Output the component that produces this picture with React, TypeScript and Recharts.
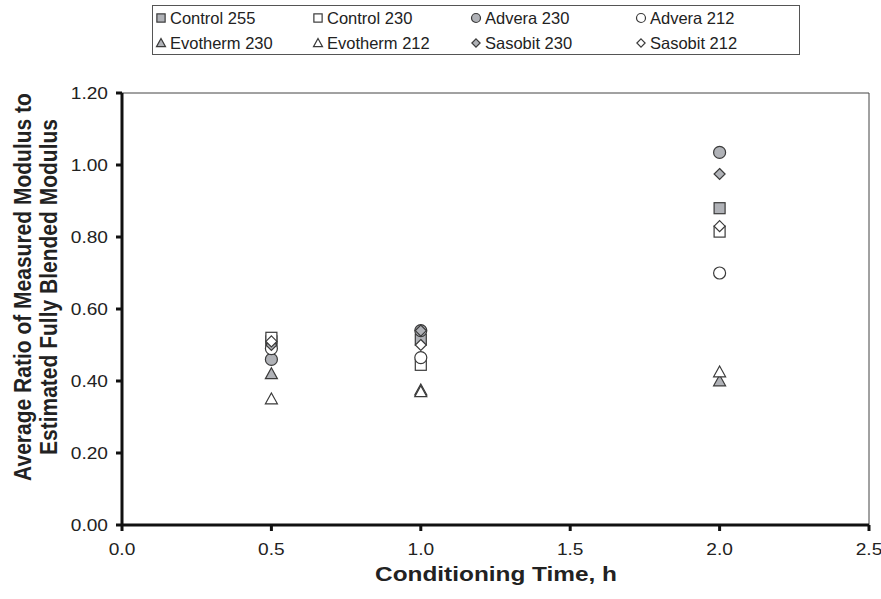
import React from 'react';
import { ScatterChart, Scatter, XAxis, YAxis, ReferenceLine } from 'recharts';

const times = [0.5, 1.0, 2.0];
const control255 = [0.51, 0.515, 0.88];
const control230 = [0.52, 0.445, 0.815];
const advera230 = [0.46, 0.54, 1.035];
const advera212 = [0.49, 0.465, 0.70];
const evotherm230 = [0.42, 0.375, 0.40];
const evotherm212 = [0.35, 0.37, 0.425];
const sasobit230 = [0.50, 0.54, 0.975];
const sasobit212 = [0.51, 0.50, 0.83];

const xTicks = [0, 0.5, 1.0, 1.5, 2.0, 2.5];
const yTicks = [0, 0.2, 0.4, 0.6, 0.8, 1.0, 1.2];

const GREY = '#b0b2b7';
const STROKE = '#3a3a3a';
const SX = 1.16;

type Kind = 'square' | 'circle' | 'triangle' | 'diamond';

const seriesDefs: { name: string; values: number[]; kind: Kind; fill: string }[] = [
  { name: 'Control 255', values: control255, kind: 'square', fill: GREY },
  { name: 'Control 230', values: control230, kind: 'square', fill: '#ffffff' },
  { name: 'Advera 230', values: advera230, kind: 'circle', fill: GREY },
  { name: 'Advera 212', values: advera212, kind: 'circle', fill: '#ffffff' },
  { name: 'Evotherm 230', values: evotherm230, kind: 'triangle', fill: GREY },
  { name: 'Evotherm 212', values: evotherm212, kind: 'triangle', fill: '#ffffff' },
  { name: 'Sasobit 230', values: sasobit230, kind: 'diamond', fill: GREY },
  { name: 'Sasobit 212', values: sasobit212, kind: 'diamond', fill: '#ffffff' },
];

const legendCols = [2, 159, 317, 482];

function Marker({ cx, cy, kind, fill, s = 1 }: { cx: number; cy: number; kind: Kind; fill: string; s?: number }) {
  const sw = 1.2;
  if (kind === 'square') {
    const h = 5.5 * s;
    return <rect x={cx - h} y={cy - h} width={2 * h} height={2 * h} fill={fill} stroke={STROKE} strokeWidth={sw} />;
  }
  if (kind === 'circle') {
    return <circle cx={cx} cy={cy} r={6 * s} fill={fill} stroke={STROKE} strokeWidth={sw} />;
  }
  if (kind === 'triangle') {
    const h = 6 * s;
    return (
      <polygon
        points={`${cx},${cy - h} ${cx + h},${cy + h * 0.8} ${cx - h},${cy + h * 0.8}`}
        fill={fill}
        stroke={STROKE}
        strokeWidth={sw}
      />
    );
  }
  const d = 5.5 * s;
  return (
    <polygon
      points={`${cx},${cy - d} ${cx + d},${cy} ${cx},${cy + d} ${cx - d},${cy}`}
      fill={fill}
      stroke={STROKE}
      strokeWidth={sw}
    />
  );
}

const font = 'Liberation Sans, Arial, sans-serif';

const XTick = (props: any) => {
  const { x, y, payload } = props;
  return (
    <g transform={`translate(${x},${y})`}>
      <text transform={`scale(${SX},1)`} textAnchor="middle" dy="0.71em" fill="#222" fontSize={16.5} fontFamily={font}>
        {Number(payload.value).toFixed(1)}
      </text>
    </g>
  );
};

const YTick = (props: any) => {
  const { x, y, payload } = props;
  return (
    <g transform={`translate(${x},${y})`}>
      <text transform={`scale(${SX},1)`} textAnchor="end" dy="0.355em" fill="#222" fontSize={16.5} fontFamily={font}>
        {Number(payload.value).toFixed(2)}
      </text>
    </g>
  );
};

const LegendBox = () => (
  <div
    style={{
      position: 'absolute',
      left: 152,
      top: 5,
      width: 648,
      height: 50,
      border: '1px solid #555',
      boxSizing: 'border-box',
      fontFamily: font,
      fontSize: 16.5,
      color: '#222',
      background: '#fff',
    }}
  >
    {seriesDefs.map((d, i) => {
      const col = i % 4;
      const row = Math.floor(i / 4);
      return (
        <div
          key={d.name}
          style={{
            position: 'absolute',
            left: legendCols[col],
            top: 1 + row * 25,
            height: 22,
            display: 'flex',
            alignItems: 'center',
            whiteSpace: 'nowrap',
          }}
        >
          <svg width={12} height={18} style={{ marginRight: 3 }}>
            <Marker cx={6} cy={9} kind={d.kind} fill={d.fill} s={0.75} />
          </svg>
          <span>{d.name}</span>
        </div>
      );
    })}
  </div>
);

export default function App() {
  return (
    <div style={{ position: 'absolute', left: 0, top: 0, width: 881, height: 599, background: '#fff' }}>
      <ScatterChart width={881} height={599} margin={{ top: 93, right: 12, bottom: 0, left: 62 }}>
        <XAxis
          type="number"
          dataKey="x"
          domain={[0, 2.5]}
          ticks={xTicks}
          axisLine={{ stroke: '#111', strokeWidth: 3 }}
          tickLine={{ stroke: '#111', strokeWidth: 3 }}
          tickSize={6}
          tickMargin={12}
          tick={<XTick />}
          height={74}
        />
        <YAxis
          type="number"
          dataKey="y"
          domain={[0, 1.2]}
          ticks={yTicks}
          axisLine={{ stroke: '#111', strokeWidth: 3 }}
          tickLine={{ stroke: '#111', strokeWidth: 3 }}
          tickSize={6}
          tickMargin={8}
          tick={<YTick />}
          width={60}
        />
        <ReferenceLine y={1.2} stroke="#444" strokeWidth={1} />
        <ReferenceLine x={2.5} stroke="#444" strokeWidth={1} />
        {seriesDefs.map((d) => (
          <Scatter
            key={d.name}
            name={d.name}
            data={times.map((t, i) => ({ x: t, y: d.values[i] }))}
            isAnimationActive={false}
            shape={(p: any) => <Marker cx={p.cx} cy={p.cy} kind={d.kind} fill={d.fill} />}
          />
        ))}
      </ScatterChart>
      <LegendBox />
      <div
        style={{
          position: 'absolute',
          left: 496,
          top: 574,
          transform: `translate(-50%, -50%) scaleX(${SX})`,
          fontFamily: font,
          fontWeight: 'bold',
          fontSize: 21,
          color: '#222',
          whiteSpace: 'nowrap',
        }}
      >
        Conditioning Time, h
      </div>
      <div
        style={{
          position: 'absolute',
          left: 36,
          top: 287,
          transform: `translate(-50%, -50%) scaleX(${SX}) rotate(-90deg)`,
          fontFamily: font,
          fontWeight: 'bold',
          fontSize: 21,
          color: '#222',
          textAlign: 'center',
          lineHeight: '22px',
          whiteSpace: 'nowrap',
        }}
      >
        Average Ratio of Measured Modulus to
        <br />
        Estimated Fully Blended Modulus
      </div>
    </div>
  );
}
